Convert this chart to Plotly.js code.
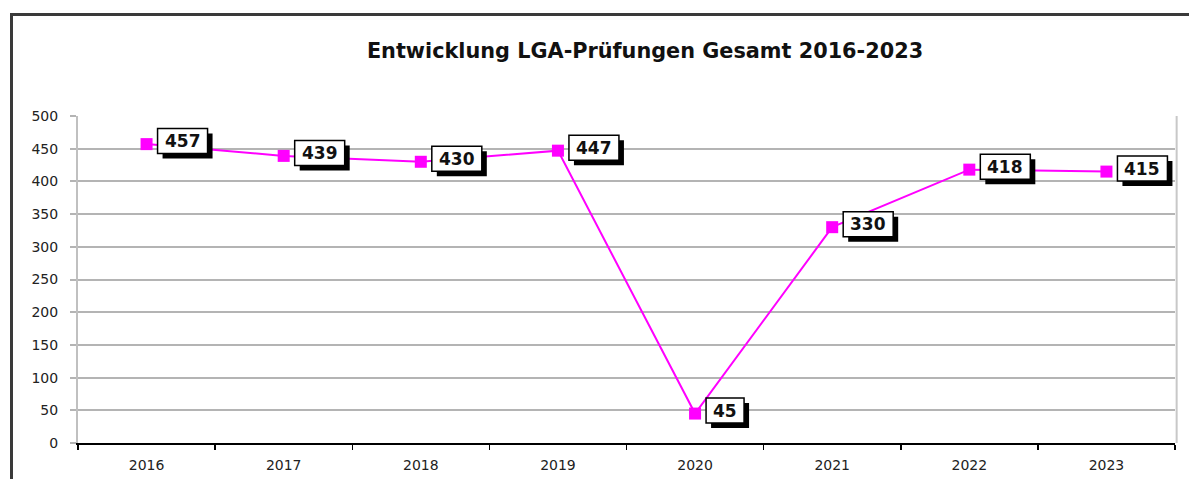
<!DOCTYPE html>
<html>
<head>
<meta charset="utf-8">
<script src="https://cdn.plot.ly/plotly-3.0.1.min.js"></script>
<style>
html,body{margin:0;padding:0;background:#fff;}
#chart{width:1189px;height:479px;}
</style>
</head>
<body>
<div id="chart"></div>
<script>
const years = ["2016","2017","2018","2019","2020","2021","2022","2023"];
const values = [457, 439, 430, 447, 45, 330, 418, 415];
const chartTitle = "Entwicklung LGA-Prüfungen Gesamt 2016-2023";
const yTicks = [0,50,100,150,200,250,300,350,400,450,500];

const FONT = "DejaVu Sans, Verdana, sans-serif";
const trace = {
  x: years, y: values, type: "scatter", mode: "lines+markers",
  line: {color: "#ff00ff", width: 2},
  marker: {symbol: "square", size: 12, color: "#ff00ff"},
  hoverinfo: "skip", cliponaxis: false
};

// plot area px: left 78, right 1175, top 116, bottom 443
const pw = 1097, ph = 327;
const shapes = [
  {type: "line", xref: "paper", yref: "paper", x0: (12-78)/pw, x1: 1.2, y0: 1 + (116-14.5)/ph, y1: 1 + (116-14.5)/ph,
   line: {color: "#3a3a3a", width: 3}},
  {type: "line", xref: "paper", yref: "paper", x0: (11.5-78)/pw, x1: (11.5-78)/pw, y0: 1 + (116-13)/ph, y1: -0.3,
   line: {color: "#3a3a3a", width: 3}},
  {type: "line", xref: "paper", yref: "paper", x0: 1.0015, x1: 1.0015, y0: 0, y1: 1,
   line: {color: "#c8c8c8", width: 2}}
];

const annotations = [];
years.forEach((yr, i) => {
  const txt = String(values[i]);
  const w = txt.length >= 3 ? 50 : 38;
  const h = 25;
  const dx = 11, dy = 3, sh = 5;
  // shadow
  shapes.push({type: "rect", layer: "above", xref: "x", yref: "y", xsizemode: "pixel", ysizemode: "pixel",
    xanchor: i, yanchor: values[i], x0: dx + sh, x1: dx + sh + w, y0: dy - sh - h/2, y1: dy - sh + h/2,
    fillcolor: "#000", line: {width: 0}});
  // white box
  shapes.push({type: "rect", layer: "above", xref: "x", yref: "y", xsizemode: "pixel", ysizemode: "pixel",
    xanchor: i, yanchor: values[i], x0: dx, x1: dx + w, y0: dy - h/2, y1: dy + h/2,
    fillcolor: "#fff", line: {color: "#000", width: 1.5}});
  annotations.push({x: i, y: values[i], xref: "x", yref: "y", showarrow: false,
    text: "<b>" + txt + "</b>", xanchor: "center", yanchor: "middle",
    xshift: dx + w/2, yshift: dy,
    font: {family: FONT, size: 17, color: "#111"}});
});

const layout = {
  width: 1189, height: 479,
  margin: {l: 78, r: 14, t: 116, b: 36},
  paper_bgcolor: "#fff", plot_bgcolor: "#fff",
  showlegend: false,
  title: {text: "<b>" + chartTitle + "</b>", x: 645/1189, xref: "container", xanchor: "center",
          y: 1 - 51/479, yref: "container", yanchor: "middle",
          font: {family: FONT, size: 20.8, color: "#111"}},
  xaxis: {type: "category", range: [-0.5, 7.5], tickson: "boundaries", ticks: "outside", ticklen: 5,
          tickcolor: "#000", tickwidth: 1.5, showline: true, linecolor: "#000", linewidth: 2,
          ticklabelstandoff: 8,
          showgrid: false, zeroline: false, tickfont: {family: FONT, size: 14, color: "#222"}, fixedrange: true},
  yaxis: {range: [0, 500], tickvals: yTicks, ticktext: yTicks.map(String), ticks: "outside", ticklen: 6,
          tickcolor: "#b4b4b4", tickwidth: 2, showline: true, linecolor: "#c0c0c0", linewidth: 2,
          ticklabelstandoff: 9,
          showgrid: true, gridcolor: "#b4b4b4", gridwidth: 2, zeroline: false,
          tickfont: {family: FONT, size: 14, color: "#222"}, fixedrange: true},
  annotations: annotations,
  shapes: shapes
};

Plotly.newPlot("chart", [trace], layout, {displayModeBar: false, staticPlot: true});
</script>
</body>
</html>
